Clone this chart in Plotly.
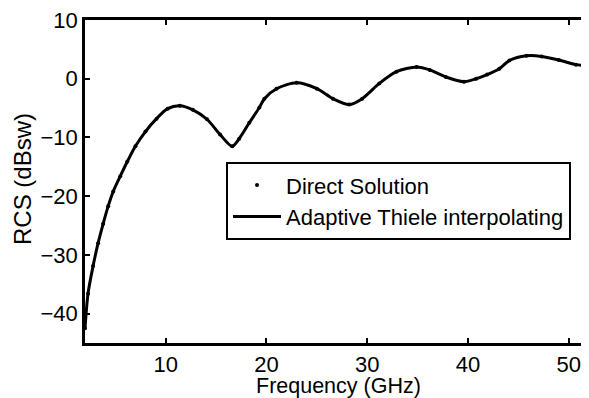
import plotly.graph_objects as go

freq_ghz = [2.0, 2.3, 2.8, 3.3, 3.8, 4.3, 4.8, 5.5, 6.2, 7.0, 8.0, 9.1, 10.2, 11.4,
            12.7, 14.1, 15.4, 16.6, 17.3, 18.3, 19.3, 19.8, 21.0, 23.0, 25.0, 26.6,
            28.2, 29.5, 31.2, 32.9, 34.9, 36.2, 37.8, 39.6, 40.8, 41.9, 43.1, 44.1,
            45.8, 47.3, 49.0, 50.7, 52.0]
rcs_direct = [-42.5, -36.6, -31.9, -28.0, -24.7, -21.7, -19.2, -16.6, -14.1, -11.5,
              -9.0, -6.8, -5.1, -4.6, -5.3, -6.9, -9.5, -11.5, -10.2, -7.5, -4.9,
              -3.4, -1.7, -0.7, -1.7, -3.4, -4.4, -3.4, -0.8, 1.2, 2.0, 1.5, 0.3,
              -0.5, 0.0, 0.7, 1.7, 3.1, 3.9, 3.8, 3.2, 2.4, 2.2]
rcs_thiele = rcs_direct

x_ticks = [10, 20, 30, 40, 50]
y_ticks = [-40, -30, -20, -10, 0, 10]
y_tick_text = ["\u221240", "\u221230", "\u221220", "\u221210", "0", "10"]

FONT = "Liberation Sans, Arial, sans-serif"

fig = go.Figure()
fig.add_trace(go.Scatter(x=freq_ghz, y=rcs_direct, mode="markers",
                         name="Direct Solution",
                         marker=dict(color="black", size=4)))
fig.add_trace(go.Scatter(x=freq_ghz, y=rcs_thiele, mode="lines",
                         name="Adaptive Thiele interpolating",
                         line=dict(color="black", width=3, shape="spline", smoothing=0.8)))
# transparent trace carrying the right-side y ticks
fig.add_trace(go.Scatter(x=freq_ghz, y=rcs_thiele, mode="lines", yaxis="y2",
                         showlegend=False, hoverinfo="skip",
                         line=dict(color="rgba(0,0,0,0)", width=0)))

# page body has an 8px default margin: figure is 581x390 placed at (8, 8)
# plot area in window pixels: x 85..589, y 18..343
M_T, M_B = 10, 55
PLOT_H = 390 - M_T - M_B   # 325
PLOT_BOTTOM = 390 - M_B    # figure px
fig.update_layout(
    width=581, height=390,
    margin=dict(l=77, r=0, t=M_T, b=M_B),
    paper_bgcolor="white", plot_bgcolor="white",
    font=dict(family=FONT, size=22, color="black"),
    showlegend=True,
    legend=dict(x=(571 - 85) / 504, y=(343 - 161) / 325, xanchor="right", yanchor="top",
                bgcolor="white", bordercolor="black", borderwidth=2,
                font=dict(size=22), tracegroupgap=0, itemwidth=48),
    xaxis=dict(range=[2, 52], tickvals=x_ticks, ticks="inside", ticklen=5,
               tickwidth=2, tickcolor="black", showline=True, linecolor="black",
               linewidth=2.5, mirror="ticks", showgrid=False, zeroline=False,
               ticklabeloverflow="allow", tickfont=dict(size=22)),
    yaxis=dict(range=[-45, 10], tickvals=y_ticks, ticktext=y_tick_text,
               ticks="inside", ticklen=5, tickwidth=2, tickcolor="black",
               showline=True, linecolor="black", linewidth=2.5, mirror=False,
               showgrid=False, zeroline=False, ticklabeloverflow="allow",
               tickfont=dict(size=22)),
    yaxis2=dict(overlaying="y", side="right", matches="y", tickvals=y_ticks,
                ticks="inside", ticklen=5, tickwidth=2, tickcolor="black",
                showticklabels=False, showline=False, showgrid=False,
                zeroline=False),
    annotations=[
        dict(text="Frequency (GHz)", xref="paper", yref="paper",
             x=(338 - 85) / 504, y=-(386 - 8 - PLOT_BOTTOM) / PLOT_H,
             xanchor="center", yanchor="middle", showarrow=False,
             font=dict(size=21.5)),
        dict(text="RCS (dBsw)", xref="paper", yref="paper", textangle=-90,
             x=(22 - 85) / 504, y=(PLOT_BOTTOM - (178 - 8)) / PLOT_H,
             xanchor="center", yanchor="middle", showarrow=False,
             font=dict(size=24)),
    ],
)

fig.write_html("out.html")
